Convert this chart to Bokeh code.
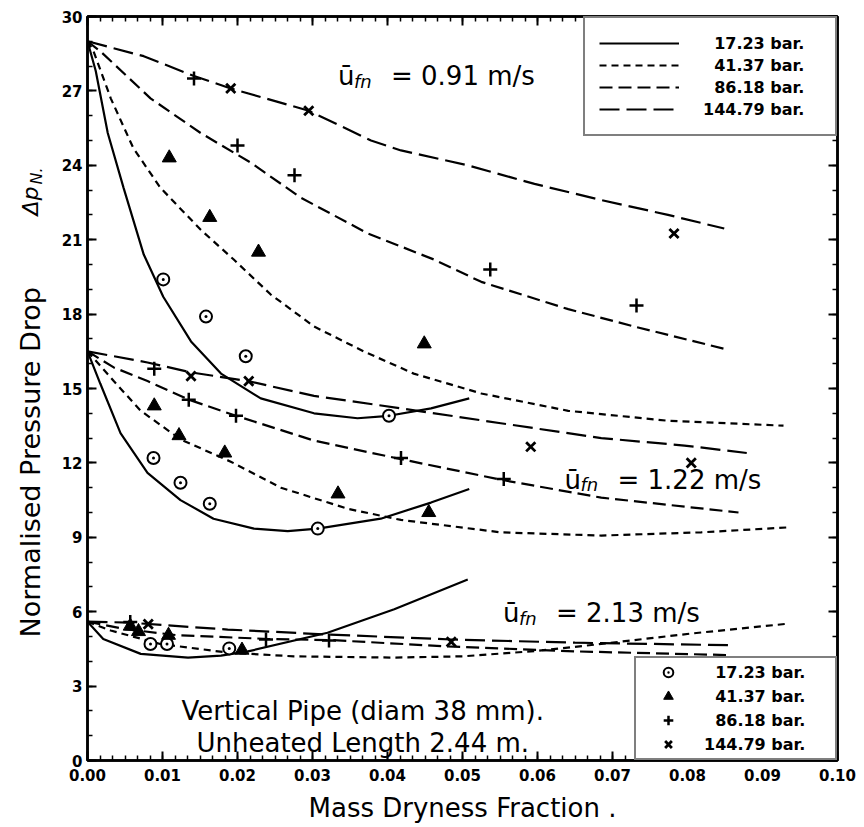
import math
from bokeh.plotting import figure
from bokeh.layouts import row
from bokeh.models import (Range1d, Label, Legend, LegendItem, LinearAxis,
                          FixedTicker, NumeralTickFormatter, CustomJSTickFormatter)
from bokeh.embed import file_html
from bokeh.resources import INLINE

FONT = "DejaVu Sans"

# ---------------- data: mean liquid velocity 0.91 m/s ----------------
x_091_p17 = [0.0, 0.0011, 0.0027, 0.0048, 0.0075, 0.0101, 0.0138, 0.0178, 0.0231, 0.0302, 0.036, 0.0402, 0.0458, 0.0509]
y_091_p17 = [29.0, 27.8, 25.3, 23.1, 20.4, 18.7, 16.9, 15.6, 14.6, 14.0, 13.8, 13.9, 14.2, 14.6]
x_091_p41 = [0.0, 0.0008, 0.0031, 0.0061, 0.0097, 0.0151, 0.0195, 0.0244, 0.0302, 0.0368, 0.0435, 0.0525, 0.0641, 0.0774, 0.0928]
y_091_p41 = [29.0, 28.6, 26.7, 24.7, 23.1, 21.4, 20.2, 18.8, 17.5, 16.5, 15.6, 14.8, 14.1, 13.7, 13.5]
x_091_p86 = [0.0, 0.0017, 0.0084, 0.0151, 0.0218, 0.0284, 0.0374, 0.0462, 0.0525, 0.0641, 0.0729, 0.0849]
y_091_p86 = [29.0, 28.6, 26.7, 25.3, 24.1, 22.7, 21.25, 20.2, 19.3, 18.2, 17.5, 16.6]
x_091_p144 = [0.0, 0.0075, 0.0142, 0.0191, 0.0295, 0.0378, 0.0418, 0.0507, 0.0596, 0.0685, 0.0774, 0.0849]
y_091_p144 = [29.0, 28.4, 27.6, 27.1, 26.2, 25.0, 24.6, 24.0, 23.25, 22.6, 22.0, 21.45]

mx_091_p17 = [0.0101, 0.0158, 0.0211, 0.0402]
my_091_p17 = [19.4, 17.9, 16.3, 13.9]
mx_091_p41 = [0.0109, 0.0163, 0.0228, 0.0449]
my_091_p41 = [24.3, 21.9, 20.5, 16.8]
mx_091_p86 = [0.0142, 0.0200, 0.0276, 0.0537, 0.0732]
my_091_p86 = [27.5, 24.8, 23.6, 19.8, 18.35]
mx_091_p144 = [0.0191, 0.0295, 0.0782]
my_091_p144 = [27.1, 26.2, 21.25]

# ---------------- data: mean liquid velocity 1.22 m/s ----------------
x_122_p17 = [0.0, 0.0017, 0.0044, 0.008, 0.0124, 0.0168, 0.0222, 0.0267, 0.0307, 0.0391, 0.0458, 0.0509]
y_122_p17 = [16.5, 15.2, 13.2, 11.6, 10.5, 9.75, 9.35, 9.25, 9.35, 9.75, 10.4, 10.95]
x_122_p41 = [0.0, 0.0035, 0.0071, 0.0124, 0.0191, 0.0258, 0.0347, 0.0418, 0.0551, 0.0685, 0.0818, 0.0935]
y_122_p41 = [16.5, 15.3, 14.1, 12.95, 12.05, 11.0, 10.15, 9.7, 9.2, 9.07, 9.2, 9.4]
x_122_p86 = [0.0, 0.0035, 0.008, 0.0135, 0.0198, 0.0302, 0.0418, 0.0555, 0.0685, 0.0868]
y_122_p86 = [16.5, 15.85, 15.3, 14.55, 13.9, 12.9, 12.15, 11.3, 10.6, 10.0]
x_122_p144 = [0.0, 0.008, 0.0138, 0.0214, 0.0302, 0.0418, 0.0551, 0.0685, 0.0796, 0.0879]
y_122_p144 = [16.5, 16.05, 15.65, 15.3, 14.7, 14.2, 13.6, 13.0, 12.7, 12.4]

mx_122_p17 = [0.0088, 0.0124, 0.0163, 0.0307]
my_122_p17 = [12.2, 11.2, 10.35, 9.35]
mx_122_p41 = [0.0089, 0.0122, 0.0183, 0.0334, 0.0455]
my_122_p41 = [14.3, 13.1, 12.4, 10.75, 10.0]
mx_122_p86 = [0.0089, 0.0135, 0.0198, 0.0418, 0.0555]
my_122_p86 = [15.8, 14.55, 13.9, 12.2, 11.35]
mx_122_p144 = [0.0138, 0.0215, 0.0591, 0.0805]
my_122_p144 = [15.5, 15.3, 12.65, 12.0]

# ---------------- data: mean liquid velocity 2.13 m/s ----------------
x_213_p17 = [0.0, 0.0021, 0.0071, 0.0134, 0.0178, 0.0214, 0.032, 0.0409, 0.0507]
y_213_p17 = [5.6, 4.9, 4.3, 4.15, 4.23, 4.4, 5.15, 6.1, 7.3]
x_213_p41 = [0.0, 0.0031, 0.0097, 0.0187, 0.0275, 0.0409, 0.05, 0.06, 0.0685, 0.0805, 0.0935]
y_213_p41 = [5.6, 5.24, 4.7, 4.35, 4.2, 4.15, 4.2, 4.42, 4.7, 5.12, 5.52]
x_213_p86 = [0.0, 0.005, 0.012, 0.0242, 0.0328, 0.048, 0.065, 0.0855]
y_213_p86 = [5.6, 5.3, 5.05, 4.9, 4.85, 4.6, 4.4, 4.25]
x_213_p144 = [0.0, 0.0055, 0.0187, 0.032, 0.0485, 0.065, 0.0855]
y_213_p144 = [5.6, 5.56, 5.28, 5.08, 4.88, 4.75, 4.65]

mx_213_p17 = [0.0084, 0.0106, 0.0189]
my_213_p17 = [4.7, 4.7, 4.52]
mx_213_p41 = [0.0057, 0.0068, 0.0108, 0.0206]
my_213_p41 = [5.42, 5.2, 5.05, 4.45]
mx_213_p86 = [0.0057, 0.0238, 0.0322]
my_213_p86 = [5.58, 4.88, 4.84]
mx_213_p144 = [0.0081, 0.0485]
my_213_p144 = [5.5, 4.78]

pressures = ["17.23 bar.", "41.37 bar.", "86.18 bar.", "144.79 bar."]
velocity_labels = ["0.91 m/s", "1.22 m/s", "2.13 m/s"]
velocity_pos = [(0.0334, 27.6), (0.0636, 11.33), (0.0554, 5.93)]

x_ticks = [0.0, 0.01, 0.02, 0.03, 0.04, 0.05, 0.06, 0.07, 0.08, 0.09, 0.10]
y_ticks = [0, 3, 6, 9, 12, 15, 18, 21, 24, 27, 30]

# ---------------- main figure ----------------
p = figure(width=809, height=827, x_range=Range1d(0, 0.10), y_range=Range1d(0, 30),
           output_backend="svg", toolbar_location=None,
           min_border_left=32, min_border_right=27, min_border_top=16, min_border_bottom=67)
p.grid.visible = False
p.outline_line_color = "black"
p.outline_line_width = 2.5
p.background_fill_color = "white"
p.border_fill_color = "white"

# six minor divisions per 0.01 on x, one per unit on y
x_ticker = FixedTicker(ticks=x_ticks, minor_ticks=[i * 0.01 / 6 for i in range(61)])
y_ticker = FixedTicker(ticks=y_ticks, minor_ticks=list(range(31)))

for ax, tk in ((p.xaxis[0], x_ticker), (p.yaxis[0], y_ticker)):
    ax.ticker = tk
    ax.axis_line_width = 2.5
    ax.major_tick_in = 9
    ax.major_tick_out = 0
    ax.minor_tick_in = 5
    ax.minor_tick_out = 0
    ax.major_tick_line_width = 2
    ax.minor_tick_line_width = 1.5
    ax.major_label_text_font = FONT
    ax.major_label_text_font_style = "bold"
    ax.major_label_text_font_size = "15px"
    ax.major_label_text_color = "black"
p.xaxis[0].formatter = NumeralTickFormatter(format="0.00")
p.yaxis[0].formatter = NumeralTickFormatter(format="0")
p.xaxis[0].major_label_standoff = 8
p.yaxis[0].major_label_standoff = 5

p.xaxis[0].axis_label = "Mass Dryness Fraction ."
p.xaxis[0].axis_label_text_font = FONT
p.xaxis[0].axis_label_text_font_style = "normal"
p.xaxis[0].axis_label_text_font_size = "26px"
p.xaxis[0].axis_label_text_color = "black"
p.xaxis[0].axis_label_standoff = 9

blank = CustomJSTickFormatter(code="return ''")
for loc, tk in (("above", x_ticker), ("right", y_ticker)):
    ax = LinearAxis(ticker=tk, formatter=blank, axis_line_width=2.5,
                    major_tick_in=9, major_tick_out=0, minor_tick_in=5, minor_tick_out=0,
                    major_tick_line_width=2, minor_tick_line_width=1.5,
                    major_label_standoff=0, major_label_text_font_size="1px")
    p.add_layout(ax, loc)

# ---------------- curves ----------------
dashes = ["solid", "7 5", "13 6", "20 7"]
curves = [
    [(x_091_p17, y_091_p17), (x_091_p41, y_091_p41), (x_091_p86, y_091_p86), (x_091_p144, y_091_p144)],
    [(x_122_p17, y_122_p17), (x_122_p41, y_122_p41), (x_122_p86, y_122_p86), (x_122_p144, y_122_p144)],
    [(x_213_p17, y_213_p17), (x_213_p41, y_213_p41), (x_213_p86, y_213_p86), (x_213_p144, y_213_p144)],
]
line_renderers = [[] for _ in dashes]
for group in curves:
    for k, (xs, ys) in enumerate(group):
        r = p.line(xs, ys, line_color="black", line_width=2.2, line_dash=dashes[k])
        line_renderers[k].append(r)

markers = [
    [(mx_091_p17, my_091_p17), (mx_091_p41, my_091_p41), (mx_091_p86, my_091_p86), (mx_091_p144, my_091_p144)],
    [(mx_122_p17, my_122_p17), (mx_122_p41, my_122_p41), (mx_122_p86, my_122_p86), (mx_122_p144, my_122_p144)],
    [(mx_213_p17, my_213_p17), (mx_213_p41, my_213_p41), (mx_213_p86, my_213_p86), (mx_213_p144, my_213_p144)],
]
marker_styles = [
    dict(marker="circle_dot", size=12, fill_color="white", line_width=2),
    dict(marker="triangle", size=14, fill_color="black", line_width=1),
    dict(marker="cross", size=14, fill_color=None, line_width=2.5),
    dict(marker="x", size=13, fill_color=None, line_width=2.8),
]
marker_renderers = [[] for _ in marker_styles]
for group in markers:
    for k, (xs, ys) in enumerate(group):
        r = p.scatter(xs, ys, line_color="black", **marker_styles[k])
        marker_renderers[k].append(r)

# ---------------- legends ----------------
def pad(label):
    # figure space keeps the pressure values right-aligned
    return label if len(label.split()[0]) >= 6 else "\u2007" + label

common = dict(margin=0, border_line_color="black", border_line_width=2,
              background_fill_color="white", background_fill_alpha=1.0,
              label_text_font=FONT, label_text_font_style="bold",
              label_text_font_size="16px", label_text_color="black", spacing=0)

leg_lines = Legend(items=[LegendItem(label=pad(lab), renderers=[line_renderers[k][0]])
                          for k, lab in enumerate(pressures)],
                   location="top_right", padding=14, glyph_width=80, glyph_height=22,
                   label_height=22, label_standoff=24, label_width=118, **common)
leg_marks = Legend(items=[LegendItem(label=pad(lab), renderers=[marker_renderers[k][0]])
                          for k, lab in enumerate(pressures)],
                   location="bottom_right", padding=2, glyph_width=60, glyph_height=24,
                   label_height=24, label_standoff=6, label_width=129, **common)
p.add_layout(leg_lines)
p.add_layout(leg_marks)

# ---------------- annotations ----------------
for (vx, vy), txt in zip(velocity_pos, velocity_labels):
    p.add_layout(Label(x=vx, y=vy, text="ū", text_font=FONT, text_font_size="26px",
                       text_color="black", text_baseline="alphabetic"))
    p.add_layout(Label(x=vx, y=vy, x_offset=16, y_offset=-5, text="fn", text_font=FONT,
                       text_font_style="italic", text_font_size="18px", text_color="black",
                       text_baseline="alphabetic"))
    p.add_layout(Label(x=vx, y=vy, x_offset=53, text="= " + txt, text_font=FONT,
                       text_font_size="26px", text_color="black", text_baseline="alphabetic"))

p.add_layout(Label(x=0.0367, y=2.0, text="Vertical Pipe (diam 38 mm).", text_font=FONT,
                   text_font_size="26px", text_color="black", text_align="center",
                   text_baseline="alphabetic"))
p.add_layout(Label(x=0.0367, y=0.69, text="Unheated Length 2.44 m.", text_font=FONT,
                   text_font_size="26px", text_color="black", text_align="center",
                   text_baseline="alphabetic"))

# ---------------- y-axis title panel (frame aligned with the main plot) ----------------
t = figure(width=55, height=827, x_range=Range1d(0, 55), y_range=Range1d(0, 827),
           output_backend="svg", toolbar_location=None, x_axis_type=None, y_axis_type=None,
           min_border=0, outline_line_color=None)
t.grid.visible = False
t.border_fill_color = "white"
t.add_layout(Label(x=30, y=123, x_units="screen", y_units="screen",
                   text="Normalised Pressure Drop", angle=math.pi / 2, text_font=FONT,
                   text_font_size="27px", text_color="black", text_align="left",
                   text_baseline="middle"))
t.add_layout(Label(x=30, y=545, x_units="screen", y_units="screen", text="Δp",
                   angle=math.pi / 2, text_font=FONT, text_font_style="italic",
                   text_font_size="22px", text_color="black", text_align="left",
                   text_baseline="middle"))
t.add_layout(Label(x=36, y=576, x_units="screen", y_units="screen", text="N.",
                   angle=math.pi / 2, text_font=FONT, text_font_style="italic",
                   text_font_size="16px", text_color="black", text_align="left",
                   text_baseline="middle"))

layout = row(t, p, spacing=0)
open("out.html", "w").write(file_html(layout, INLINE))
